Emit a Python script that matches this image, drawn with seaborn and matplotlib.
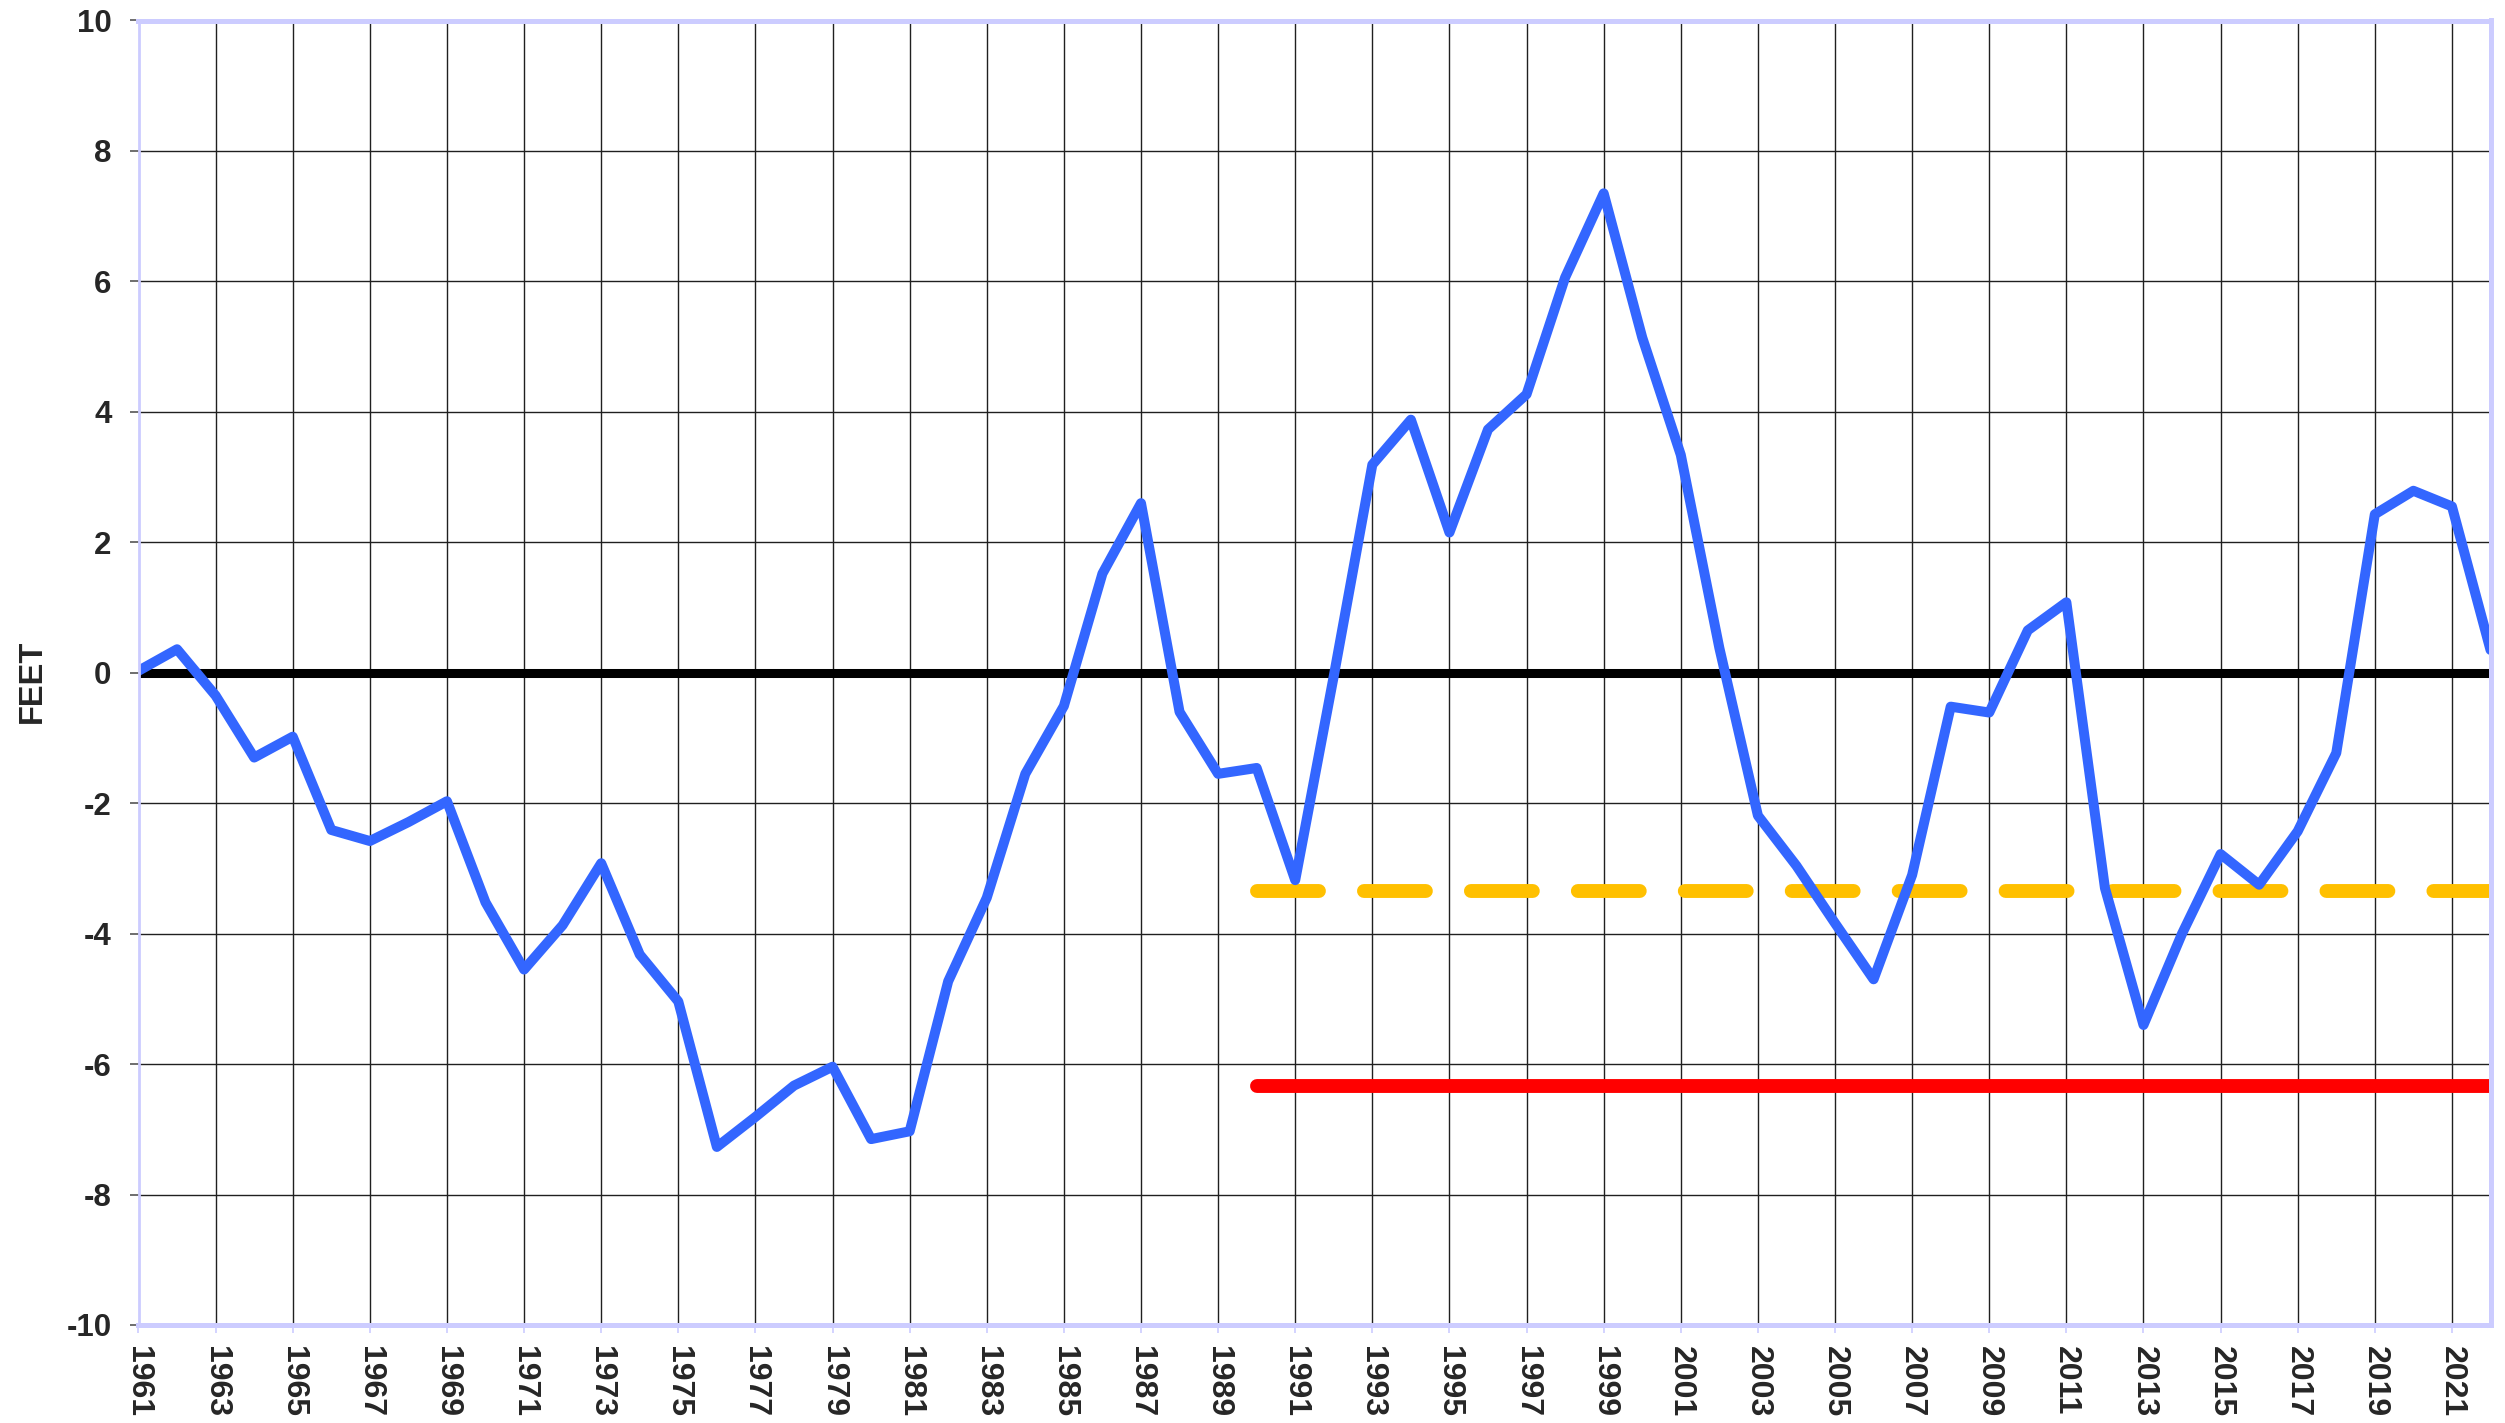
import matplotlib
matplotlib.use("Agg")
import matplotlib.pyplot as plt
import numpy as np
import pandas as pd
import seaborn as sns

# ---------------- data ----------------
years = list(range(1961, 2023))
level_ft = [
    0.03, 0.36, -0.35, -1.30, -0.98, -2.41, -2.58, -2.29, -1.97, -3.52,
    -4.55, -3.87, -2.92, -4.32, -5.04, -7.27, -6.81, -6.33, -6.04, -7.15,
    -7.03, -4.73, -3.45, -1.55, -0.51, 1.52, 2.60, -0.60, -1.55, -1.46,
    -3.18, -0.05, 3.19, 3.88, 2.15, 3.73, 4.27, 6.06, 7.35, 5.14,
    3.34, 0.38, -2.19, -2.96, -3.84, -4.70, -3.10, -0.52, -0.61, 0.65,
    1.08, -3.30, -5.40, -4.00, -2.78, -3.25, -2.43, -1.23, 2.43, 2.79,
    2.55, 0.35,
]
zero_years = [1961, 2022]
zero_vals = [0.0, 0.0]
dash_years = [1990, 2022]
dash_vals = [-3.34, -3.34]
red_years = [1990, 2022]
red_vals = [-6.33, -6.33]

xtick_years = list(range(1961, 2022, 2))
ytick_vals = list(range(-10, 11, 2))
ytick_labels = [str(v) for v in ytick_vals]
ylabel_text = "FEET"

df = pd.DataFrame({"year": years, "level": level_ft})
df_zero = pd.DataFrame({"year": zero_years, "level": zero_vals})
df_dash = pd.DataFrame({"year": dash_years, "level": dash_vals})
df_red = pd.DataFrame({"year": red_years, "level": red_vals})

# ---------------- style ----------------
sns.set_theme(style="white")
plt.rcParams["font.family"] = ["Liberation Sans", "DejaVu Sans"]
plt.rcParams["font.weight"] = "bold"
plt.rcParams["axes.unicode_minus"] = False

W, H = 2505, 1423
fig = plt.figure(figsize=(W / 100, H / 100), dpi=100)
ax = fig.add_axes([138.5 / W, 1 - 1325 / H, 2352 / W, 1304.5 / H])

# grid
ax.set_xticks(xtick_years)
ax.set_yticks(ytick_vals)
ax.grid(True, color="#202020", linewidth=1.0)
ax.set_axisbelow(True)

# lines
sns.lineplot(data=df_red, x="year", y="level", ax=ax, color="#FF0000",
             linewidth=10, solid_capstyle="round", zorder=3)
sns.lineplot(data=df_dash, x="year", y="level", ax=ax, color="#FFC000",
             linewidth=10, zorder=3)
ax.lines[-1].set_linestyle((0, (4.46, 3.24)))
ax.lines[-1].set_dash_capstyle("round")
sns.lineplot(data=df_zero, x="year", y="level", ax=ax, color="#000000",
             linewidth=6.5, zorder=4)
sns.lineplot(data=df, x="year", y="level", ax=ax, color="#3366FF",
             linewidth=7.2, solid_capstyle="round", solid_joinstyle="round",
             zorder=5)

ax.set_xlim(1961, 2022)
ax.set_ylim(-10, 10)

# labels
ax.set_xlabel("")
ax.set_ylabel("")
ax.set_yticklabels(ytick_labels)
ax.set_xticklabels([str(y) for y in xtick_years])
for lab in ax.get_xticklabels():
    lab.set_rotation(-90)
    lab.set_fontsize(23)
    lab.set_fontweight("bold")
    lab.set_ha("center")
    lab.set_va("top")
for lab in ax.get_yticklabels():
    lab.set_fontsize(22.5)
    lab.set_fontweight("bold")

ax.tick_params(axis="y", which="major", direction="out", length=6.5,
               width=1.2, color="#555555", pad=13, left=True)
ax.tick_params(axis="x", which="major", direction="out", length=6,
               width=1.2, color="#CCCCFF", pad=9, bottom=True)

fig.text(32 / W, 1 - 681 / H, ylabel_text, rotation=90, ha="center",
         va="center", fontsize=23.5, fontweight="bold")

# spines
for side in ["top", "right", "bottom"]:
    ax.spines[side].set_visible(True)
    ax.spines[side].set_color("#CCCCFF")
    ax.spines[side].set_linewidth(3.6)
ax.spines["left"].set_visible(True)
ax.spines["left"].set_color("#CCCCFF")
ax.spines["left"].set_linewidth(2.0)
for s in ax.spines.values():
    s.set_zorder(6)

fig.savefig("out.png", dpi=100, facecolor="white")
